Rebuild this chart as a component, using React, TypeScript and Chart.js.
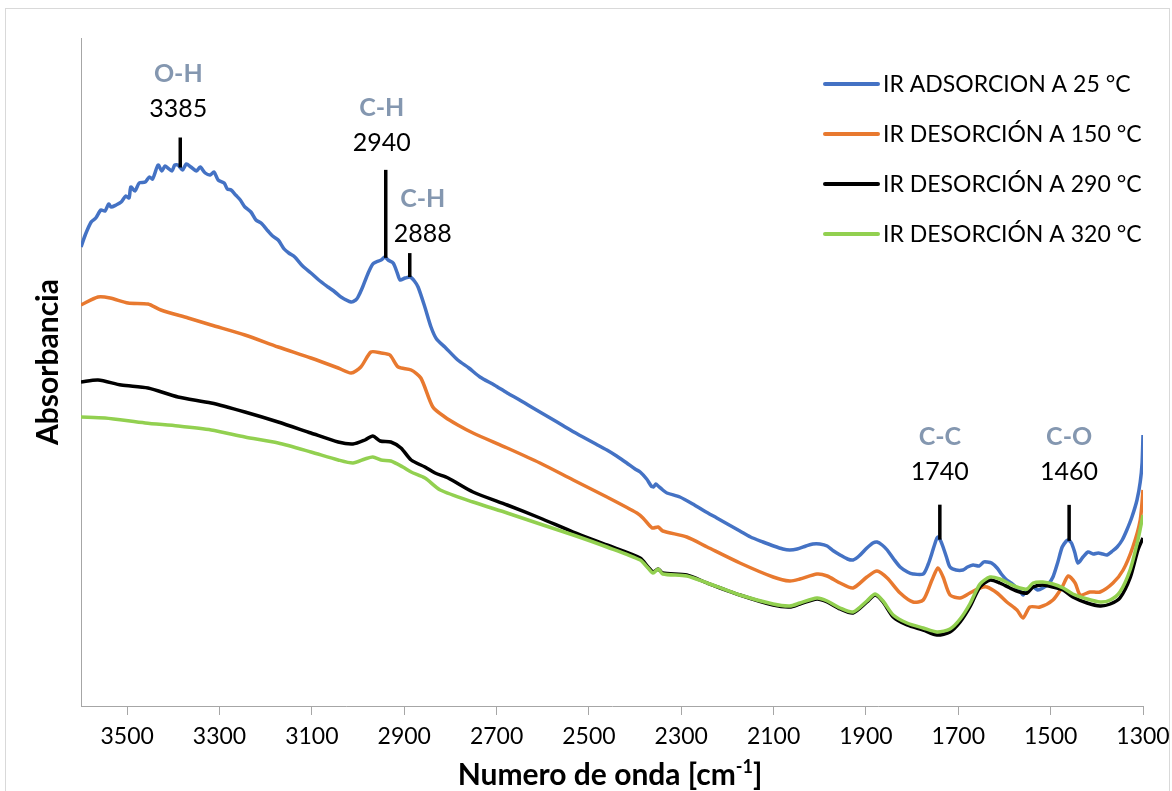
import React, { useEffect, useRef } from 'react';
import { Chart, registerables } from 'chart.js';

Chart.register(...registerables);

const FONT = 'Lato, "Open Sans", sans-serif';

const seriesNames = [
  'IR ADSORCION A 25 °C',
  'IR DESORCIÓN A 150 °C',
  'IR DESORCIÓN A 290 °C',
  'IR DESORCIÓN A 320 °C',
];
const seriesColors = ['#4472C4', '#E8792F', '#000000', '#92D050'];

const xTickValues = [3500, 3300, 3100, 2900, 2700, 2500, 2300, 2100, 1900, 1700, 1500, 1300];

// IR ADSORCION A 25 °C
const blueWn = [
  3600, 3590, 3578, 3568, 3557, 3548, 3540, 3535, 3524, 3513, 3503, 3496, 3492, 3483, 3474, 3461,
  3452, 3445, 3433, 3425, 3418, 3412, 3403, 3397, 3390, 3380, 3372, 3362, 3350, 3342, 3331, 3320,
  3312, 3303, 3290, 3283, 3275, 3265, 3255, 3245, 3232, 3221, 3210, 3195, 3185, 3173, 3160, 3150,
  3137, 3120, 3102, 3085, 3065, 3050, 3037, 3015, 3005, 3000, 2990, 2978, 2968, 2961, 2950, 2942,
  2935, 2924, 2915, 2909, 2898, 2887, 2878, 2870, 2856, 2842, 2830, 2812, 2784, 2760, 2736, 2705,
  2677, 2650, 2621, 2595, 2569, 2540, 2513, 2485, 2461, 2440, 2418, 2400, 2389, 2375, 2365, 2360,
  2355, 2350, 2340, 2331, 2303, 2275, 2250, 2223, 2200, 2173, 2150, 2123, 2100, 2080, 2065, 2049,
  2030, 2015, 2000, 1984, 1970, 1956, 1940, 1928, 1915, 1898, 1885, 1876, 1865, 1854, 1840, 1826,
  1810, 1798, 1776, 1765, 1757, 1748, 1744, 1738, 1733, 1725, 1718, 1705, 1690, 1680, 1668, 1655,
  1645, 1638, 1628, 1616, 1605, 1595, 1585, 1573, 1565, 1560, 1552, 1545, 1538, 1528, 1517, 1505,
  1495, 1485, 1475, 1466, 1462, 1455, 1448, 1441, 1430, 1419, 1408, 1397, 1387, 1378, 1366, 1356,
  1345, 1335, 1324, 1313, 1306, 1302, 1300,
];
const blueAbs = [
  0.918, 0.944, 0.968, 0.976, 0.992, 0.99, 1.004, 0.998, 1.002, 1.008, 1.02, 1.016, 1.038, 1.03, 1.046, 1.048,
  1.058, 1.054, 1.082, 1.07, 1.08, 1.076, 1.07, 1.082, 1.082, 1.072, 1.084, 1.078, 1.07, 1.078, 1.066, 1.062,
  1.068, 1.052, 1.046, 1.034, 1.032, 1.022, 1.012, 0.998, 0.988, 0.972, 0.966, 0.95, 0.94, 0.932, 0.914, 0.906,
  0.898, 0.88, 0.866, 0.852, 0.838, 0.828, 0.818, 0.808, 0.812, 0.818, 0.838, 0.866, 0.884, 0.888, 0.892, 0.898,
  0.892, 0.886, 0.866, 0.852, 0.856, 0.858, 0.85, 0.838, 0.8, 0.758, 0.734, 0.718, 0.692, 0.676, 0.658, 0.642,
  0.626, 0.612, 0.596, 0.582, 0.568, 0.552, 0.538, 0.524, 0.512, 0.5, 0.486, 0.474, 0.468, 0.454, 0.44, 0.438,
  0.444, 0.44, 0.432, 0.426, 0.418, 0.404, 0.39, 0.376, 0.364, 0.35, 0.338, 0.328, 0.32, 0.314, 0.312, 0.314,
  0.32, 0.324, 0.324, 0.32, 0.31, 0.302, 0.294, 0.292, 0.3, 0.316, 0.326, 0.328, 0.322, 0.312, 0.294, 0.278,
  0.268, 0.264, 0.264, 0.284, 0.306, 0.332, 0.338, 0.33, 0.318, 0.296, 0.278, 0.272, 0.272, 0.278, 0.282, 0.28,
  0.288, 0.288, 0.286, 0.276, 0.262, 0.252, 0.246, 0.236, 0.228, 0.222, 0.232, 0.234, 0.238, 0.232, 0.236, 0.244,
  0.258, 0.286, 0.318, 0.33, 0.332, 0.326, 0.308, 0.286, 0.298, 0.308, 0.304, 0.306, 0.304, 0.302, 0.31, 0.318,
  0.332, 0.352, 0.378, 0.412, 0.448, 0.486, 0.542,
];

// IR DESORCIÓN A 150 °C
const orangeWn = [
  3600, 3563, 3537, 3498, 3455, 3427, 3368, 3318, 3245, 3173, 3102, 3043, 3015, 2994, 2972, 2950,
  2931, 2913, 2885, 2864, 2838, 2812, 2784, 2751, 2677, 2606, 2534, 2461, 2396, 2383, 2363, 2350,
  2340, 2288, 2244, 2173, 2101, 2065, 2043, 2006, 1984, 1956, 1928, 1898, 1876, 1854, 1826, 1798,
  1776, 1757, 1744, 1733, 1718, 1696, 1675, 1653, 1638, 1616, 1595, 1573, 1560, 1545, 1523, 1495,
  1475, 1462, 1447, 1436, 1415, 1393, 1365, 1343, 1322, 1306, 1300,
];
const orangeAbs = [
  0.802, 0.818, 0.816, 0.806, 0.804, 0.792, 0.776, 0.762, 0.742, 0.718, 0.696, 0.676, 0.666, 0.678, 0.708, 0.706,
  0.702, 0.678, 0.672, 0.656, 0.598, 0.578, 0.562, 0.546, 0.516, 0.486, 0.452, 0.418, 0.386, 0.376, 0.356, 0.358,
  0.35, 0.338, 0.318, 0.286, 0.258, 0.25, 0.254, 0.264, 0.26, 0.246, 0.236, 0.258, 0.27, 0.256, 0.226, 0.208,
  0.212, 0.252, 0.276, 0.258, 0.222, 0.216, 0.226, 0.236, 0.238, 0.226, 0.208, 0.192, 0.176, 0.198, 0.198, 0.212,
  0.238, 0.26, 0.246, 0.222, 0.228, 0.228, 0.246, 0.272, 0.318, 0.372, 0.432,
];

// IR DESORCIÓN A 290 °C
const blackWn = [
  3600, 3563, 3513, 3455, 3390, 3318, 3245, 3173, 3102, 3043, 3011, 2985, 2968, 2952, 2929, 2907,
  2885, 2855, 2833, 2805, 2751, 2677, 2606, 2534, 2461, 2389, 2372, 2361, 2350, 2340, 2288, 2244,
  2173, 2101, 2065, 2043, 2006, 1984, 1956, 1928, 1898, 1880, 1863, 1841, 1811, 1776, 1746, 1718,
  1696, 1675, 1653, 1631, 1610, 1588, 1567, 1551, 1538, 1517, 1495, 1473, 1452, 1421, 1393, 1371,
  1350, 1328, 1311, 1300,
];
const blackAbs = [
  0.648, 0.652, 0.642, 0.636, 0.618, 0.606, 0.588, 0.568, 0.546, 0.528, 0.524, 0.532, 0.54, 0.53, 0.528, 0.516,
  0.492, 0.478, 0.466, 0.456, 0.428, 0.402, 0.376, 0.348, 0.322, 0.296, 0.278, 0.268, 0.274, 0.266, 0.262, 0.246,
  0.222, 0.202, 0.198, 0.204, 0.214, 0.208, 0.194, 0.186, 0.208, 0.222, 0.208, 0.178, 0.162, 0.152, 0.142, 0.148,
  0.168, 0.198, 0.238, 0.252, 0.246, 0.236, 0.228, 0.226, 0.238, 0.242, 0.238, 0.232, 0.218, 0.206, 0.2, 0.204,
  0.216, 0.256, 0.312, 0.336,
];

// IR DESORCIÓN A 320 °C
const greenWn = [
  3600, 3548, 3461, 3390, 3318, 3245, 3173, 3102, 3043, 3011, 2985, 2968, 2950, 2929, 2903, 2885,
  2855, 2822, 2751, 2677, 2606, 2534, 2461, 2389, 2372, 2361, 2350, 2340, 2288, 2244, 2173, 2101,
  2065, 2043, 2006, 1984, 1956, 1928, 1898, 1880, 1863, 1841, 1811, 1776, 1746, 1718, 1696, 1675,
  1653, 1631, 1610, 1588, 1567, 1551, 1538, 1517, 1495, 1473, 1452, 1421, 1393, 1371, 1350, 1328,
  1311, 1300,
];
const greenAbs = [
  0.578, 0.576, 0.566, 0.56, 0.552, 0.538, 0.526, 0.508, 0.492, 0.486, 0.494, 0.498, 0.492, 0.49, 0.478, 0.468,
  0.456, 0.432, 0.408, 0.386, 0.364, 0.342, 0.318, 0.292, 0.276, 0.266, 0.274, 0.264, 0.26, 0.246, 0.222, 0.204,
  0.2, 0.206, 0.216, 0.21, 0.196, 0.188, 0.21, 0.224, 0.21, 0.182, 0.166, 0.156, 0.148, 0.154, 0.174, 0.204,
  0.244, 0.258, 0.254, 0.244, 0.236, 0.234, 0.246, 0.248, 0.244, 0.236, 0.224, 0.214, 0.208, 0.212, 0.228, 0.272,
  0.332, 0.382,
];

// Peak annotations (on the 25 °C spectrum)
const peakWn = [3385, 2940, 2888, 1740, 1460];
const peakNumbers = ['3385', '2940', '2888', '1740', '1460'];
const peakBonds = ['O-H', 'C-H', 'C-H', 'C-C', 'C-O'];

// Annotation drawing style (pixels)
const peakStyle = [
  { line: 30, gap: 29.5, dx: -2 },
  { line: 88, gap: 27.5, dx: -4 },
  { line: 24, gap: 20.5, dx: 13 },
  { line: 35, gap: 34, dx: 0 },
  { line: 36, gap: 34, dx: 0 },
];

const AXIS = '#A6A6A6';

function toPoints(wn: number[], abs: number[]) {
  return wn.map((w, i) => ({ x: w, y: abs[i] }));
}

function interp(wn: number[], abs: number[], w: number) {
  for (let i = 0; i < wn.length - 1; i++) {
    const a = wn[i], b = wn[i + 1];
    if ((w <= a && w >= b) || (w >= a && w <= b)) {
      const t = a === b ? 0 : (w - a) / (b - a);
      return abs[i] + t * (abs[i + 1] - abs[i]);
    }
  }
  return abs[0];
}

const framePlugin = {
  id: 'frame',
  beforeDraw(chart: any) {
    const { ctx, width, height } = chart;
    ctx.save();
    ctx.fillStyle = '#ffffff';
    ctx.fillRect(0, 0, width, height);
    ctx.strokeStyle = '#D9D9D9';
    ctx.lineWidth = 1;
    ctx.strokeRect(5.5, 8.5, width - 8, height + 10);
    ctx.restore();
  },
  beforeDatasetsDraw(chart: any) {
    const { ctx, chartArea } = chart;
    ctx.save();
    ctx.strokeStyle = AXIS;
    ctx.lineWidth = 1;
    ctx.beginPath();
    ctx.moveTo(Math.round(chartArea.left) + 0.5, chartArea.top);
    ctx.lineTo(Math.round(chartArea.left) + 0.5, chartArea.bottom);
    ctx.stroke();
    ctx.restore();
  },
  afterDraw(chart: any) {
    const { ctx, chartArea } = chart;
    const xs = chart.scales.x;
    const ys = chart.scales.y;
    ctx.save();
    // peak annotations
    peakWn.forEach((w, i) => {
      const st = peakStyle[i];
      const px = xs.getPixelForValue(w);
      const py = ys.getPixelForValue(interp(blueWn, blueAbs, w));
      const top = py - st.line;
      ctx.strokeStyle = '#000000';
      ctx.lineWidth = 3.5;
      ctx.beginPath();
      ctx.moveTo(px, py);
      ctx.lineTo(px, top);
      ctx.stroke();
      const numBase = top - st.gap + 9;
      ctx.textAlign = 'center';
      ctx.textBaseline = 'alphabetic';
      ctx.fillStyle = '#000000';
      ctx.font = `25px ${FONT}`;
      ctx.fillText(peakNumbers[i], px + st.dx, numBase);
      ctx.fillStyle = '#8497B0';
      ctx.font = `bold 25px ${FONT}`;
      ctx.fillText(peakBonds[i], px + st.dx, numBase - 35);
    });
    // legend
    const lx = chartArea.right - 318;
    seriesNames.forEach((name, i) => {
      const ly = chartArea.top + 46 + i * 50;
      ctx.strokeStyle = seriesColors[i];
      ctx.lineWidth = 4;
      ctx.lineCap = 'round';
      ctx.beginPath();
      ctx.moveTo(lx, ly);
      ctx.lineTo(lx + 53, ly);
      ctx.stroke();
      ctx.fillStyle = '#000000';
      ctx.font = `23px ${FONT}`;
      ctx.textAlign = 'left';
      ctx.textBaseline = 'alphabetic';
      ctx.fillText(name, lx + 58, ly + 8);
    });
    // x axis title with superscript
    const cx = (chartArea.left + chartArea.right) / 2 - 2;
    const base = chartArea.bottom + 79;
    const t1 = 'Numero de onda [cm';
    const t2 = '-1';
    const t3 = ']';
    ctx.font = `bold 30px ${FONT}`;
    const w1 = ctx.measureText(t1).width;
    const w3 = ctx.measureText(t3).width;
    ctx.font = `bold 18px ${FONT}`;
    const w2 = ctx.measureText(t2).width;
    let sx = cx - (w1 + w2 + w3) / 2;
    ctx.fillStyle = '#000000';
    ctx.textAlign = 'left';
    ctx.font = `bold 30px ${FONT}`;
    ctx.fillText(t1, sx, base);
    sx += w1;
    ctx.font = `bold 18px ${FONT}`;
    ctx.fillText(t2, sx, base - 12);
    sx += w2;
    ctx.font = `bold 30px ${FONT}`;
    ctx.fillText(t3, sx, base);
    // y axis title
    ctx.translate(chartArea.left - 23, (chartArea.top + chartArea.bottom) / 2 - 10);
    ctx.rotate(-Math.PI / 2);
    ctx.textAlign = 'center';
    ctx.font = `bold 30px ${FONT}`;
    ctx.fillText('Absorbancia', 0, 0);
    ctx.restore();
  },
};

export default function App() {
  const ref = useRef<HTMLCanvasElement>(null);
  useEffect(() => {
    const series = [
      toPoints(blueWn, blueAbs),
      toPoints(orangeWn, orangeAbs),
      toPoints(blackWn, blackAbs),
      toPoints(greenWn, greenAbs),
    ];
    const chart = new Chart(ref.current as HTMLCanvasElement, {
      type: 'line',
      data: {
        datasets: series.map((d, i) => ({
          label: seriesNames[i],
          data: d,
          borderColor: seriesColors[i],
          backgroundColor: seriesColors[i],
          borderWidth: 3.5,
          pointRadius: 0,
          tension: 0.25,
          fill: false,
          order: 3 - i,
        })),
      },
      options: {
        animation: false,
        responsive: false,
        devicePixelRatio: 1,
        parsing: true,
        layout: { padding: { left: 81, right: 29, top: 38, bottom: 0 } },
        plugins: { legend: { display: false }, tooltip: { enabled: false } },
        scales: {
          x: {
            type: 'linear',
            reverse: true,
            min: 1300,
            max: 3600,
            afterBuildTicks: (s: any) => {
              s.ticks = xTickValues.map((v) => ({ value: v }));
            },
            afterFit: (s: any) => {
              s.height = 85;
              s.paddingLeft = 0;
              s.paddingRight = 0;
            },
            ticks: {
              color: '#000000',
              font: { family: FONT, size: 23 },
              padding: 8,
              maxRotation: 0,
              autoSkip: false,
              callback: (v: any) => String(v),
            },
            grid: {
              display: true,
              drawOnChartArea: false,
              drawTicks: true,
              tickLength: 9,
              color: AXIS,
              lineWidth: 1,
            },
            border: { display: true, color: AXIS, width: 1 },
          },
          y: { display: false, min: 0, max: 1.336 },
        },
      },
      plugins: [framePlugin],
    } as any);
    return () => chart.destroy();
  }, []);
  return (
    <div style={{ position: 'fixed', left: 0, top: 0, width: 1172, height: 791, background: '#ffffff' }}>
      <canvas ref={ref} width={1172} height={791} style={{ display: 'block' }} />
    </div>
  );
}
